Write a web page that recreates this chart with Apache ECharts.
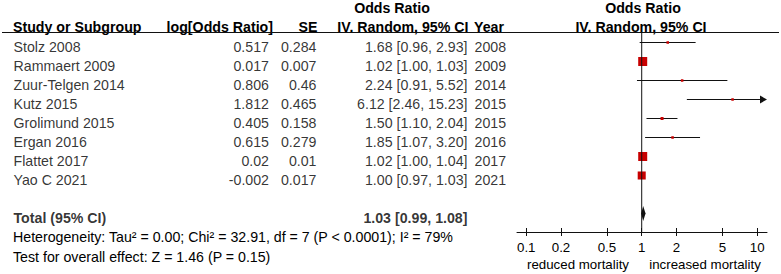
<!DOCTYPE html>
<html><head><meta charset="utf-8">
<script src="https://cdn.jsdelivr.net/npm/echarts@6/dist/echarts.min.js"></script>
<style>html,body{margin:0;padding:0;background:#fff}#c{width:781px;height:274px}</style>
</head><body><div id="c"></div>
<script>
// ---------- data ----------
const studies = ['Stolz 2008','Rammaert 2009','Zuur-Telgen 2014','Kutz 2015','Grolimund 2015','Ergan 2016','Flattet 2017','Yao C 2021'];
const logOR = ['0.517','0.017','0.806','1.812','0.405','0.615','0.02','-0.002'];
const seVals = ['0.284','0.007','0.46','0.465','0.158','0.279','0.01','0.017'];
const orVal = [1.68,1.02,2.24,6.12,1.50,1.85,1.02,1.00];
const ciLow = [0.96,1.00,0.91,2.46,1.10,1.07,1.00,0.97];
const ciHigh = [2.93,1.03,5.52,15.23,2.04,3.20,1.04,1.03];
const years = ['2008','2009','2014','2015','2015','2016','2017','2021'];
const weightPct = [0.2,38.8,0.1,0.1,0.7,0.2,34.8,25.3]; // estimated study weights
const totalOR = 1.03, totalLow = 0.99, totalHigh = 1.08;
const tickValues = [0.1,0.2,0.5,1,2,5,10];
const tickLabels = ['0.1','0.2','0.5','1','2','5','10'];
const heterogeneityText = 'Heterogeneity: Tau\u00b2 = 0.00; Chi\u00b2 = 32.91, df = 7 (P < 0.0001); I\u00b2 = 79%';
const overallText = 'Test for overall effect: Z = 1.46 (P = 0.15)';
const leftLabel = 'reduced mortality', rightLabel = 'increased mortality';

// ---------- layout ----------
const FONT = '"Liberation Sans", Arial, Helvetica, sans-serif';
const FS = 14.2;
const X_MIN = -1.08, X_MAX = 1.085;
const Y_MIN = -0.5526, Y_MAX = 9.9737;
const TOTAL_ROW = 9;
const RED = '#c80000', INK = '#111';
const lg = v => Math.log10(v);
const f2 = v => v.toFixed(2);

const chart = echarts.init(document.getElementById('c'), null, {renderer:'svg', width:781, height:274});

function boxSize(w){ return Math.max(2.5, Math.min(9, 2 + 1.2*Math.sqrt(w))); }

function renderStudy(params, api){
  const row = api.value(0), lo = api.value(1), hi = api.value(2), est = api.value(3), sz = api.value(4);
  const clipped = hi > X_MAX;
  const hiC = Math.min(hi, X_MAX);
  const p1 = api.coord([lo,row]), p2 = api.coord([hiC,row]), pe = api.coord([est,row]);
  const y = Math.round(p1[1]) + 0.5;
  const children = [];
  if (clipped){
    children.push({type:'line', shape:{x1:p1[0],y1:y,x2:p2[0]-6,y2:y}, style:{stroke:INK,lineWidth:1}});
    children.push({type:'polygon', shape:{points:[[p2[0],y],[p2[0]-7,y-4],[p2[0]-7,y+4]]}, style:{fill:INK}});
  } else {
    children.push({type:'line', shape:{x1:p1[0],y1:y,x2:p2[0],y2:y}, style:{stroke:INK,lineWidth:1}});
  }
  children.push({type:'rect', shape:{x:pe[0]-sz/2, y:y-sz/2, width:sz, height:sz}, style:{fill:RED}});
  return {type:'group', children};
}

function renderDiamond(params, api){
  const row = api.value(0), lo = api.value(1), hi = api.value(2), est = api.value(3);
  const a = api.coord([lo,row]), b = api.coord([est,row-0.4]), c = api.coord([hi,row]), d = api.coord([est,row+0.4]);
  return {type:'polygon', shape:{points:[a,b,c,d]}, style:{fill:INK}};
}

function col(texts, x, align, weight, rowStart){
  rowStart = rowStart || 0;
  return {
    type:'scatter', xAxisIndex:2, yAxisIndex:1, symbolSize:1, silent:true, clip:false,
    itemStyle:{color:'rgba(0,0,0,0)'},
    data: texts.map((t,i)=>[x, rowStart+i]),
    label:{show:true, position: align==='left' ? 'right' : 'left', distance:0, offset:[0,4.3],
      color:'#000', fontFamily:FONT, fontSize:FS, fontWeight:weight||'normal',
      formatter: p => texts[p.dataIndex]}
  };
}

const ciTexts = orVal.map((v,i)=>`${f2(v)} [${f2(ciLow[i])}, ${f2(ciHigh[i])}]`);
const totalText = `${f2(totalOR)} [${f2(totalLow)}, ${f2(totalHigh)}]`;

function txt(text, x, y, align, weight, size){
  return {type:'text', x, y, silent:true, style:{text, fill:'#000', fontFamily:FONT, fontSize:size||FS, fontWeight:weight||'normal', align, verticalAlign:'middle'}};
}

const tickLog = tickValues.map(lg);

const option = {
  animation:false,
  grid:[
    {left:517, top:32, width:250, height:200},
    {left:0, top:32, width:510, height:200}
  ],
  xAxis:[
    {type:'value', gridIndex:0, min:X_MIN, max:X_MAX, position:'bottom',
      axisLine:{show:true, onZero:false, lineStyle:{color:INK, width:1}},
      axisTick:{show:true, inside:false, length:4, lineStyle:{color:INK}, customValues:tickLog},
      axisLabel:{show:true, customValues:tickLog, margin:8.5, color:'#000', fontFamily:FONT, fontSize:13.3,
        formatter: v => { let k=0, best=1e9; tickLog.forEach((t,i)=>{ if(Math.abs(t-v)<best){best=Math.abs(t-v);k=i;} }); return tickLabels[k]; }},
      splitLine:{show:false}},
    {type:'value', gridIndex:0, min:X_MIN, max:X_MAX, position:'bottom', offset:0,
      axisLine:{show:false, onZero:false},
      axisTick:{show:true, inside:true, length:4, lineStyle:{color:INK}, customValues:tickLog},
      axisLabel:{show:false}, splitLine:{show:false}},
    {type:'value', gridIndex:1, min:0, max:510, show:false}
  ],
  yAxis:[
    {type:'value', gridIndex:0, min:Y_MIN, max:Y_MAX, inverse:true, show:false},
    {type:'value', gridIndex:1, min:Y_MIN, max:Y_MAX, inverse:true, show:false}
  ],
  series:[
    {type:'line', xAxisIndex:0, yAxisIndex:0, symbol:'none', silent:true,
      lineStyle:{color:INK, width:1}, data:[[0,Y_MIN],[0,Y_MAX]]},
    {type:'custom', xAxisIndex:0, yAxisIndex:0, silent:true, clip:false, renderItem:renderStudy,
      data: studies.map((s,i)=>[i, lg(ciLow[i]), lg(ciHigh[i]), lg(orVal[i]), boxSize(weightPct[i])])},
    {type:'custom', xAxisIndex:0, yAxisIndex:0, silent:true, renderItem:renderDiamond,
      data:[[TOTAL_ROW, lg(totalLow), lg(totalHigh), lg(totalOR)]]},
    col(studies, 13, 'left'),
    col(logOR, 269.5, 'right'),
    col(seVals, 317, 'right'),
    col(ciTexts, 468, 'right'),
    col(years, 474, 'left'),
    col(['Total (95% CI)'], 13, 'left', 'bold', TOTAL_ROW),
    col([totalText], 468, 'right', 'bold', TOTAL_ROW)
  ],
  graphic:[
    txt('Odds Ratio', 392, 7.8, 'center', 'bold'),
    txt('Odds Ratio', 643, 7.8, 'center', 'bold'),
    txt('Study or Subgroup', 13, 27, 'left', 'bold'),
    txt('log[Odds Ratio]', 273, 27, 'right', 'bold'),
    txt('SE', 317.5, 27, 'right', 'bold'),
    txt('IV. Random, 95% CI', 468.5, 27, 'right', 'bold'),
    txt('Year', 474, 27, 'left', 'bold'),
    txt('IV. Random, 95% CI', 641, 27, 'center', 'bold'),
    {type:'line', silent:true, shape:{x1:2,y1:32.5,x2:779,y2:32.5}, style:{stroke:INK, lineWidth:1}},
    txt(heterogeneityText, 13, 237, 'left'),
    txt(overallText, 13, 256.5, 'left'),
    txt(leftLabel, 578, 264.5, 'center', 'normal', 13.3),
    txt(rightLabel, 705, 264.5, 'center', 'normal', 13.3)
  ]
};
chart.setOption(option);
</script>
</body></html>
